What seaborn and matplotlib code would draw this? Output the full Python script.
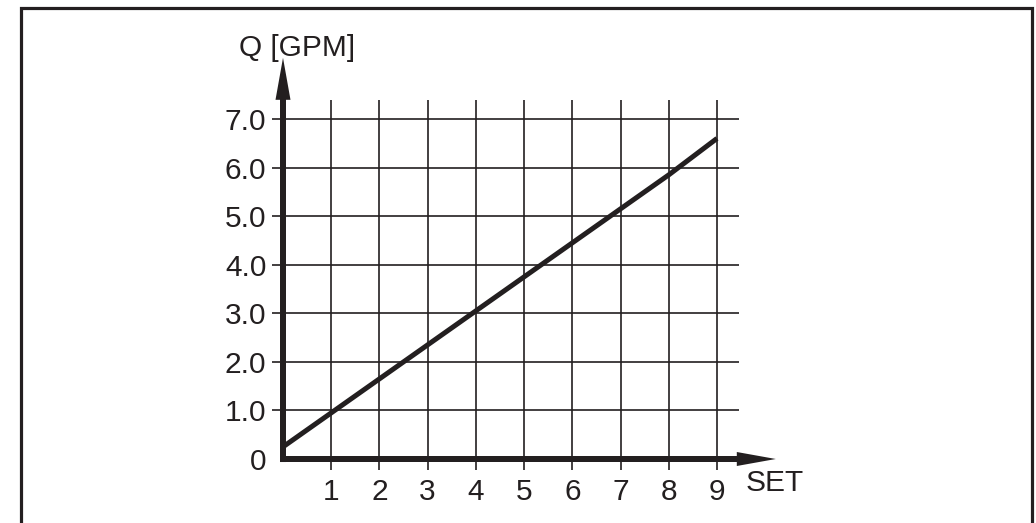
import matplotlib
matplotlib.use("Agg")
import matplotlib.pyplot as plt
import seaborn as sns
import pandas as pd
from matplotlib.patches import Rectangle

# ---- data ----
set_values = [0, 1, 2, 3, 4, 5, 6, 7, 8, 9]
q_values = [0.25, 0.95, 1.65, 2.35, 3.05, 3.75, 4.45, 5.15, 5.85, 6.6]
x_ticks = [1, 2, 3, 4, 5, 6, 7, 8, 9]
x_tick_labels = ["1", "2", "3", "4", "5", "6", "7", "8", "9"]
y_ticks = [0, 1, 2, 3, 4, 5, 6, 7]
y_tick_labels = ["0", "1.0", "2.0", "3.0", "4.0", "5.0", "6.0", "7.0"]
x_label = "SET"
y_label = "Q [GPM]"

INK = "#231f20"
FS = 21.5

sns.set_theme(style="white")
plt.rcParams["font.family"] = ["Liberation Sans", "DejaVu Sans"]

W, H = 1036, 523
fig = plt.figure(figsize=(W / 100, H / 100), dpi=100)

x0_px, ux = 283.0, 48.22
y0_px, uy = 459.0, 48.57
xmax, ymax = 9.46, 7.39
ax = fig.add_axes([x0_px / W, (H - y0_px) / H, xmax * ux / W, ymax * uy / H])
ax.set_xlim(0, xmax)
ax.set_ylim(0, ymax)

df = pd.DataFrame({"SET": set_values, "Q": q_values})
sns.lineplot(data=df, x="SET", y="Q", ax=ax, color=INK, lw=3.6,
             solid_capstyle="butt", zorder=5)

for s in ax.spines.values():
    s.set_visible(False)

ax.set_xticks(x_ticks)
ax.set_xticklabels(x_tick_labels)
ax.set_yticks(y_ticks)
ax.set_yticklabels(y_tick_labels)
ax.tick_params(axis="both", direction="out", length=8, width=1.2, color=INK,
               labelsize=FS, labelcolor=INK)
ax.tick_params(axis="x", pad=6, bottom=True)
ax.tick_params(axis="y", pad=4, left=True)
ax.yaxis.get_major_ticks()[0].tick1line.set_visible(False)
ax.grid(True, color=INK, lw=1.2)
ax.set_xlabel("")
ax.set_ylabel("")

# axes with arrows
sw = 6 / ux
ax.arrow(-sw / 2, 0, 10.22 + sw / 2, 0, width=6 / uy, head_width=14 / uy,
         head_length=39 / ux, length_includes_head=True, color=INK, lw=0,
         clip_on=False, zorder=6)
ax.arrow(0, -sw / 2, 0, 8.26 + sw / 2, width=6 / ux, head_width=15 / ux,
         head_length=42 / uy, length_includes_head=True, color=INK, lw=0,
         clip_on=False, zorder=6)

ax.text(0.29, 8.46, y_label, ha="center", va="center", fontsize=FS,
        color=INK, clip_on=False)
ax.text(10.2, -0.49, x_label, ha="center", va="center", fontsize=FS,
        color=INK, clip_on=False)

# frame around the figure (open at the bottom)
fig.patches.append(Rectangle((20.5 / W, -0.1), (1032 - 20.5) / W, 1.1 - 7.5 / H,
                             transform=fig.transFigure, fill=False,
                             edgecolor=INK, lw=2.3))

fig.savefig("out.png", dpi=100, facecolor="white")
